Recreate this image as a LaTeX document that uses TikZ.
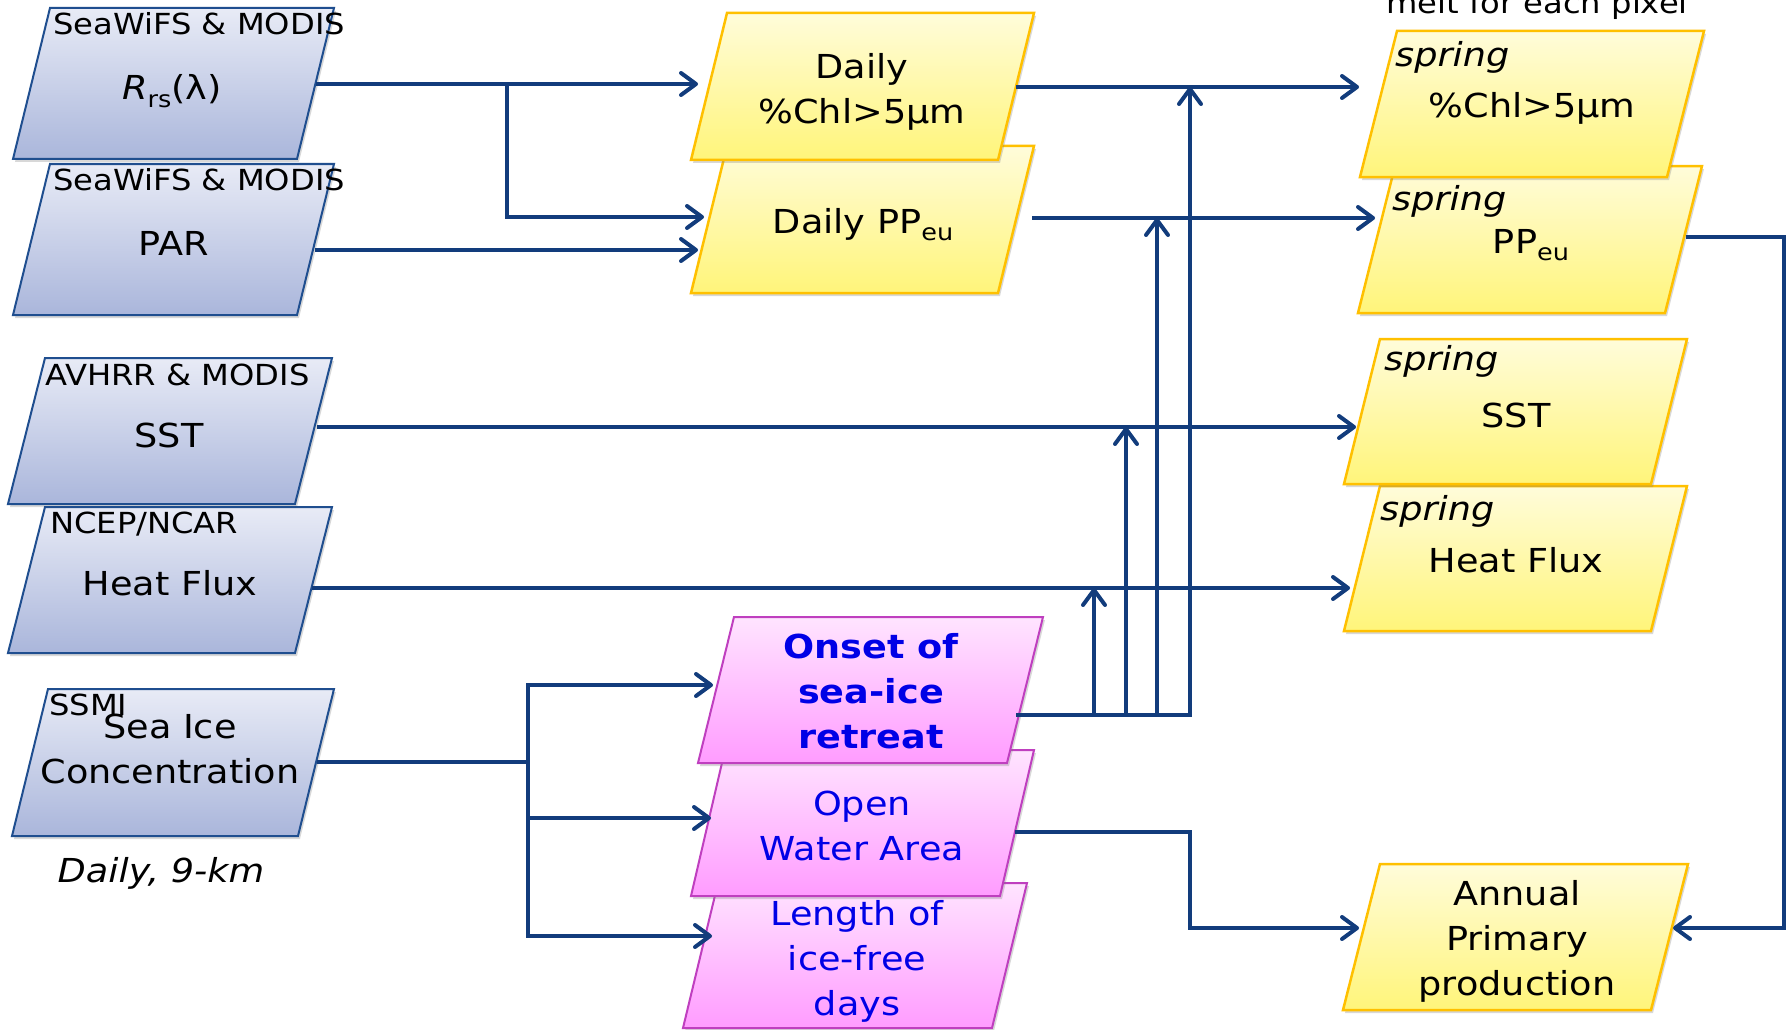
\documentclass[tikz,border=0pt]{standalone}
\usepackage{fontspec}
\setmainfont[FakeStretch=1.11]{DejaVu Sans}
\usetikzlibrary{arrows.meta,shadows,calc}
\definecolor{navy}{HTML}{123C7C}
\definecolor{bluedge}{HTML}{1F4E8F}
\definecolor{blutop}{HTML}{E8EBF6}
\definecolor{blubot}{HTML}{AAB6DB}
\definecolor{yeledge}{HTML}{FFC000}
\definecolor{yeltop}{HTML}{FFFCDA}
\definecolor{yelbot}{HTML}{FFF57A}
\definecolor{pnkedge}{HTML}{BF3FBF}
\definecolor{pnktop}{HTML}{FFE4FF}
\definecolor{pnkbot}{HTML}{FF9CFF}
\definecolor{pnktext}{HTML}{0000E6}
\newcommand\subt[1]{\raisebox{-0.22em}{\fontsize{23}{23}\selectfont #1}}
\newcommand\pbox[7]{%
  \path[#2] (#5,#7) -- ({#5+#4-#3},#7) -- (#4,#6) -- (#3,#6) -- cycle;
  \node[inner sep=0pt, minimum width={#4-#3}, minimum height={#7-#6}] (#1) at ({(#4+#5)/2},{(#6+#7)/2}) {};
}
\tikzset{
  boxshadow/.style={drop shadow={shadow xshift=2pt,shadow yshift=-3pt,opacity=.3}},
  blubox/.style={draw=bluedge, line width=2pt, top color=blutop, bottom color=blubot, boxshadow},
  yelbox/.style={draw=yeledge, line width=2.5pt, top color=yeltop, bottom color=yelbot, boxshadow},
  pnkbox/.style={draw=pnkedge, line width=2pt, top color=pnktop, bottom color=pnkbot, boxshadow},
  conn/.style={draw=navy, line width=4pt, -{Straight Barb[length=15pt,width=22pt,round]}},
  wire/.style={draw=navy, line width=4pt},
  mainlab/.style={font=\fontsize{33}{45}\selectfont, inner sep=0pt, align=center},
  srclab/.style={font=\fontsize{29}{34}\selectfont, inner sep=0pt},
}
\begin{document}
\begin{tikzpicture}[x=1pt,y=-1pt]
\useasboundingbox[fill=white] (0,0) rectangle (1791,1030);

% ---------- left source boxes ----------
\pbox{rrs}{blubox}{50}{334}{13}{8}{159}
\node[srclab, anchor=base west] (rrs-src) at (53,35) {SeaWiFS \& MODIS};
\node[mainlab, anchor=base] (rrs-t) at (172,100) {\textit{R}\subt{rs}(λ)};

\pbox{par}{blubox}{50}{334}{13}{164}{315}
\node[srclab, anchor=base west] (par-src) at (53,190) {SeaWiFS \& MODIS};
\node[mainlab, anchor=base] (par-t) at (174,255) {PAR};

\pbox{sst}{blubox}{45}{332}{8}{358}{504}
\node[srclab, anchor=base west] (sst-src) at (45,385) {AVHRR \& MODIS};
\node[mainlab, anchor=base] (sst-t) at (169,447) {SST};

\pbox{hf}{blubox}{45}{332}{8}{507}{653}
\node[srclab, anchor=base west] (hf-src) at (50,533) {NCEP/NCAR};
\node[mainlab, anchor=base] (hf-t) at (170,595) {Heat Flux};

\pbox{ssmi}{blubox}{48}{334}{12}{689}{836}
\node[srclab, anchor=base west] (ssmi-src) at (49,715) {SSMI};
\node[mainlab, anchor=base] (ssmi-t) at (170,783) {Sea Ice\\Concentration};
\node[mainlab, anchor=base] (ssmi-note) at (161,882) {\textit{Daily, 9-km}};

% ---------- middle daily boxes ----------
\pbox{ppd}{yelbox}{727}{1034}{691}{146}{293}
\node[mainlab, anchor=base] (ppd-t) at (863,233) {Daily PP\subt{eu}};
\pbox{chl}{yelbox}{727}{1034}{691}{13}{160}
\node[mainlab, anchor=base] (chl-t) at (862,124) {Daily\\\%Chl>5µm};

% ---------- middle sea-ice boxes ----------
\pbox{len}{pnkbox}{718}{1027}{683}{883}{1028}
\node[mainlab, anchor=base, text=pnktext] (len-t) at (857,1015) {Length of\\ice-free\\days};
\pbox{open}{pnkbox}{725}{1034}{691}{750}{896}
\node[mainlab, anchor=base, text=pnktext] (open-t) at (862,860) {Open\\Water Area};
\pbox{onset}{pnkbox}{734}{1043}{698}{617}{763}
\node[mainlab, anchor=base, text=pnktext, font=\fontsize{33}{45}\selectfont\bfseries] (onset-t) at (871,748) {Onset of\\sea-ice\\retreat};

% ---------- right spring boxes ----------
\node[srclab, anchor=base] (melt) at (1537,14) {melt for each pixel};
\pbox{spp}{yelbox}{1395}{1702}{1358}{166}{313}
\node[mainlab, anchor=base west] (spp-s) at (1392,210) {\textit{spring}};
\node[mainlab, anchor=base] (spp-t) at (1531,253) {PP\subt{eu}};
\pbox{schl}{yelbox}{1397}{1704}{1360}{31}{177}
\node[mainlab, anchor=base west] (schl-s) at (1395,67) {\textit{spring}};
\node[mainlab, anchor=base] (schl-t) at (1532,118) {\%Chl>5µm};

\pbox{shf}{yelbox}{1380}{1687}{1344}{486}{631}
\node[mainlab, anchor=base west] (shf-s) at (1380,520) {\textit{spring}};
\node[mainlab, anchor=base] (shf-t) at (1516,572) {Heat Flux};
\pbox{ssst}{yelbox}{1380}{1687}{1344}{339}{484}
\node[mainlab, anchor=base west] (ssst-s) at (1384,370) {\textit{spring}};
\node[mainlab, anchor=base] (ssst-t) at (1516,427) {SST};

\pbox{ann}{yelbox}{1380}{1688}{1343}{864}{1010}
\node[mainlab, anchor=base] (ann-t) at (1517,995) {Annual\\Primary\\production};

% ---------- ports ----------
\coordinate (rrs-o) at (316,84);
\coordinate (par-o) at (315,250);
\coordinate (sst-o) at (317,427);
\coordinate (hf-o) at (312,588);
\coordinate (ssmi-o) at (317,762);
\coordinate (chl-i) at (698,84);
\coordinate (ppd-i1) at (704,217);
\coordinate (ppd-i2) at (698,250);
\coordinate (chl-o) at (1016,87);
\coordinate (ppd-o) at (1032,218);
\coordinate (onset-i) at (713,685);
\coordinate (open-i) at (711,818);
\coordinate (len-i) at (712,936);
\coordinate (onset-o) at (1016,715);
\coordinate (open-o) at (1015,832);
\coordinate (schl-i) at (1359,87);
\coordinate (spp-i) at (1375,218);
\coordinate (ssst-i) at (1356,427);
\coordinate (shf-i) at (1350,588);
\coordinate (ann-i) at (1359,928);
\coordinate (spp-o) at (1686,237);
\coordinate (ann-o) at (1673,928);
\coordinate (rb) at (507,84);
\coordinate (sj) at (528,762);
\coordinate (j1) at (1094,715);
\coordinate (j2) at (1126,715);
\coordinate (j3) at (1157,715);
\coordinate (j4) at (1190,715);
\coordinate (ow) at (1190,832);
\coordinate (rr) at (1784,237);

% ---------- connectors ----------
\draw[conn] (rrs-o) -- (chl-i);
\draw[conn] (rb) |- (ppd-i1);
\draw[conn] (par-o) -- (ppd-i2);
\draw[conn] (sst-o) -- (ssst-i);
\draw[conn] (hf-o) -- (shf-i);
\draw[wire] (ssmi-o) -- (sj);
\draw[wire, line cap=rect] (sj |- onset-i) -- (sj |- len-i);
\draw[conn] (sj |- onset-i) -- (onset-i);
\draw[conn] (sj |- open-i) -- (open-i);
\draw[conn] (sj |- len-i) -- (len-i);
\draw[conn] (chl-o) -- (schl-i);
\draw[conn] (ppd-o) -- (spp-i);
\draw[conn] (onset-o) -- (j4) -- (j4 |- chl-o);
\draw[conn] (j3) -- (j3 |- ppd-o);
\draw[conn] (j2) -- (j2 |- sst-o);
\draw[conn] (j1) -- (j1 |- hf-o);
\draw[conn] (open-o) -- (ow) |- (ann-i);
\draw[conn] (spp-o) -- (rr) |- (ann-o);
\end{tikzpicture}
\end{document}
